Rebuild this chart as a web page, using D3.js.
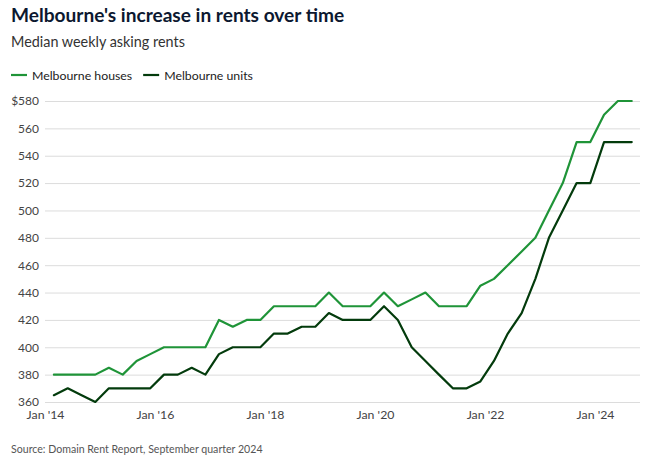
<!DOCTYPE html>
<html>
<head>
<meta charset="utf-8">
<script src="https://cdn.jsdelivr.net/npm/d3@7"></script>
<style>
  html, body { margin: 0; padding: 0; background: #fff; }
  svg { display: block; font-family: Lato, "Noto Sans", sans-serif; }
</style>
</head>
<body>
<svg id="chart" width="652" height="460"></svg>
<script>
// ---- Data (quarterly median weekly asking rents, Mar 2014 – Sep 2024) ----
const quarters = [
  "2014-03","2014-06","2014-09","2014-12",
  "2015-03","2015-06","2015-09","2015-12",
  "2016-03","2016-06","2016-09","2016-12",
  "2017-03","2017-06","2017-09","2017-12",
  "2018-03","2018-06","2018-09","2018-12",
  "2019-03","2019-06","2019-09","2019-12",
  "2020-03","2020-06","2020-09","2020-12",
  "2021-03","2021-06","2021-09","2021-12",
  "2022-03","2022-06","2022-09","2022-12",
  "2023-03","2023-06","2023-09","2023-12",
  "2024-03","2024-06","2024-09"
];
const housesRent = [
  380,380,380,380,
  385,380,390,395,
  400,400,400,400,
  420,415,420,420,
  430,430,430,430,
  440,430,430,430,
  440,430,435,440,
  430,430,430,445,
  450,460,470,480,
  500,520,550,550,
  570,580,580
];
const unitsRent = [
  365,370,365,360,
  370,370,370,370,
  380,380,385,380,
  395,400,400,400,
  410,410,415,415,
  425,420,420,420,
  430,420,400,390,
  380,370,370,375,
  390,410,425,450,
  480,500,520,520,
  550,550,550
];
const seriesNames = ["Melbourne houses", "Melbourne units"];
const seriesColors = ["#1f9438", "#033b0c"];
const yTickValues = [360, 380, 400, 420, 440, 460, 480, 500, 520, 540, 560, 580];
const xTickYears = [2014, 2016, 2018, 2020, 2022, 2024];

const titleText = "Melbourne's increase in rents over time";
const subtitleText = "Median weekly asking rents";
const sourceText = "Source: Domain Rent Report, September quarter 2024";

// ---- Setup ----
const svg = d3.select("#chart");
const parse = d3.timeParse("%Y-%m");
const dates = quarters.map(parse);
const series = [housesRent, unitsRent].map((vals, i) => ({
  name: seriesNames[i],
  color: seriesColors[i],
  values: vals.map((v, j) => ({ date: dates[j], value: v }))
}));

const plotLeft = 45, plotRight = 640;
const x = d3.scaleTime()
  .domain([new Date(2014, 0, 1), new Date(2024, 0, 1)])
  .range([45, 595]);
const y = d3.scaleLinear().domain([360, 580]).range([402, 101]);

// Title / subtitle
svg.append("text").attr("x", 11).attr("y", 22)
  .attr("font-size", 19.1).attr("font-weight", 700).attr("fill", "#0c1830")
  .text(titleText);
svg.append("text").attr("x", 11).attr("y", 47)
  .attr("font-size", 14.4).attr("fill", "#333")
  .text(subtitleText);

// Legend
let lx = 11;
const legend = svg.append("g");
series.forEach((s, i) => {
  const g = legend.append("g");
  g.append("line").attr("x1", lx).attr("x2", lx + 16).attr("y1", 75).attr("y2", 75)
    .attr("stroke", s.color).attr("stroke-width", 2.2);
  const t = g.append("text").attr("x", lx + 21).attr("y", 79.5)
    .attr("font-size", 12.3).attr("fill", "#222").text(s.name);
  lx += 21 + t.node().getComputedTextLength() + 11;
});

// Y grid & labels
const yAxis = d3.axisLeft(y).tickValues(yTickValues)
  .tickSize(-(plotRight - plotLeft))
  .tickPadding(6)
  .tickFormat((d, i) => i === yTickValues.length - 1 ? "$" + d : d);
const gy = svg.append("g").attr("transform", `translate(${plotLeft},0)`).call(yAxis);
gy.select(".domain").remove();
gy.selectAll(".tick line").attr("stroke", "#dcdcdc").attr("stroke-width", 1);
gy.selectAll(".tick text").attr("font-size", 12).attr("fill", "#444")
  .attr("font-family", "Lato, 'Noto Sans', sans-serif");

// X axis labels
const xAxis = d3.axisBottom(x)
  .tickValues(xTickYears.map(yr => new Date(yr, 0, 1)))
  .tickSize(0).tickPadding(0)
  .tickFormat(d => "Jan '" + d3.timeFormat("%y")(d));
const gx = svg.append("g").attr("transform", `translate(0,409)`).call(xAxis);
gx.select(".domain").remove();
gx.selectAll(".tick text").attr("font-size", 12.3).attr("fill", "#444")
  .attr("font-family", "Lato, 'Noto Sans', sans-serif").attr("dy", "0.85em");

// Lines
const line = d3.line().x(d => x(d.date)).y(d => y(d.value));
svg.append("g").selectAll("path").data(series).join("path")
  .attr("d", d => line(d.values))
  .attr("fill", "none")
  .attr("stroke", d => d.color)
  .attr("stroke-width", 2.2)
  .attr("stroke-linejoin", "round")
  .attr("stroke-linecap", "round");

// Source
svg.append("text").attr("x", 11).attr("y", 453)
  .attr("font-size", 10.6).attr("fill", "#555")
  .text(sourceText);
</script>
</body>
</html>
